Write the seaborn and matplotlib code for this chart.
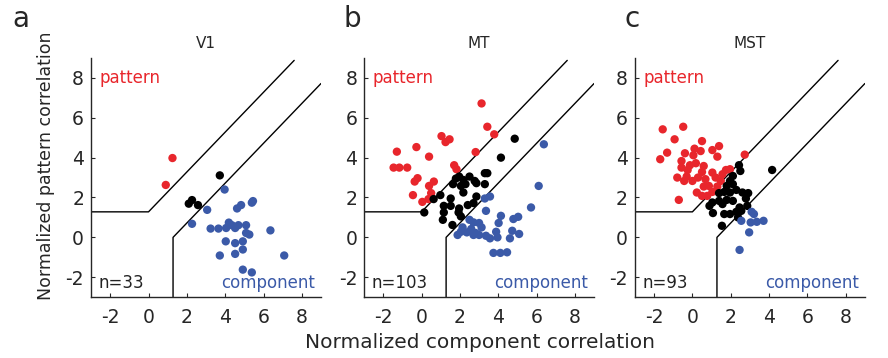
import numpy as np
import pandas as pd
import matplotlib
matplotlib.use("Agg")
import matplotlib.pyplot as plt
import seaborn as sns

# Zc (component) / Zp (pattern) values
v1_pattern_zc = [1.25, 0.90]
v1_pattern_zp = [3.98, 2.63]
v1_unclass_zc = [2.10, 2.27, 2.58, 3.72]
v1_unclass_zp = [1.69, 1.87, 1.62, 3.11]
v1_component_zc = [3.97, 5.45, 5.39, 4.83, 4.62, 3.06, 2.27, 3.24, 3.65, 4.05, 4.19, 4.35, 4.52,
                   4.69, 5.09, 5.09, 5.26, 6.36, 4.03, 4.52, 4.92, 4.92, 3.72, 4.52, 7.08, 4.92,
                   5.39]
v1_component_zp = [2.40, 1.82, 1.74, 1.62, 1.45, 1.38, 0.68, 0.44, 0.44, 0.47, 0.74, 0.61, 0.47,
                   0.61, 0.61, 0.22, 0.14, 0.35, -0.20, -0.29, -0.20, -0.61, -0.91, -0.83, -0.91,
                   -1.62, -1.76]

mt_pattern_zc = [3.13, 3.43, 3.79, 1.04, 1.25, 1.46, -1.29, -0.27, 0.39, 2.82, -1.46, -1.16,
                 -0.75, 1.70, 1.82, -0.21, -0.36, 0.64, 0.39, 0.50, -0.45, 0.04, 0.36]
mt_pattern_zp = [6.72, 5.55, 5.17, 5.08, 4.78, 4.92, 4.30, 4.53, 4.05, 4.28, 3.50, 3.50,
                 3.50, 3.62, 3.42, 2.97, 2.80, 2.80, 2.58, 2.22, 2.12, 1.78, 1.92]
mt_unclass_zc = [4.86, 4.14, 3.43, 3.30, 3.30, 2.50, 1.96, 1.79, 2.18, 2.77, 2.86, 1.64, 2.05,
                 2.29, 2.18, 0.98, 1.52, 0.63, 2.86, 2.71, 2.41, 1.16, 1.52, 1.96, 1.16, 1.93,
                 2.05, 1.11, 1.61, 0.14]
mt_unclass_zp = [4.95, 4.00, 3.22, 3.22, 2.67, 3.05, 3.05, 2.95, 2.88, 2.83, 2.72, 2.67, 2.58,
                 2.67, 2.25, 2.12, 1.95, 1.92, 2.05, 1.72, 1.62, 1.58, 1.58, 1.45, 1.25, 1.25,
                 1.05, 0.88, 0.62, 1.25]
mt_component_zc = [6.38, 6.11, 5.71, 5.04, 4.79, 4.14, 3.57, 3.30, 3.36, 4.02, 2.50, 2.71, 3.00,
                   3.13, 2.14, 2.05, 1.88, 2.59, 2.82, 2.71, 3.00, 3.36, 3.57, 3.89, 3.96, 4.73,
                   5.09, 4.61, 3.75, 4.11, 4.46, 2.36]
mt_component_zp = [4.67, 2.58, 1.50, 1.03, 0.92, 1.08, 2.05, 1.95, 1.33, 0.72, 0.88, 0.75, 0.72,
                   0.50, 0.50, 0.28, 0.12, 0.42, 0.22, 0.12, 0.12, 0.08, -0.05, 0.28, 0.00, 0.33,
                   0.17, -0.05, -0.78, -0.78, -0.75, 0.25]

mst_pattern_zc = [-1.55, -0.48, -0.93, -1.32, -1.68, -0.39, -0.57, 0.11, 0.50, 0.43, 0.05, 1.04,
                  1.39, 1.30, 2.73, -0.57, -0.25, -0.13, 0.18, 0.50, 0.59, -0.79, -0.43, -0.30,
                  0.00, 0.29, 0.68, 1.04, 1.21, 1.57, 1.75, 1.96, 1.48, 0.86, 0.59, 0.23, 0.50,
                  0.77, 1.04, 1.30, -0.71]
mst_pattern_zp = [5.42, 5.55, 4.92, 4.25, 3.92, 4.22, 3.83, 4.45, 4.83, 4.33, 4.12, 4.38,
                  4.58, 4.05, 4.15, 3.50, 3.38, 3.62, 3.72, 3.28, 3.58, 3.00, 2.83, 3.05,
                  2.83, 3.00, 2.92, 3.25, 3.00, 3.17, 3.38, 3.42, 2.83, 2.58, 2.55, 2.25, 2.08,
                  2.08, 2.28, 2.55, 1.88]
mst_unclass_zc = [2.43, 2.50, 4.16, 2.11, 1.96, 1.79, 2.11, 1.66, 1.39, 1.96, 2.29, 2.61, 2.91,
                  1.04, 1.39, 1.79, 2.11, 2.79, 0.89, 1.57, 2.46, 2.86, 1.07, 1.66, 1.96, 2.29,
                  2.55, 2.38, 1.54]
mst_unclass_zp = [3.62, 3.33, 3.38, 3.08, 2.83, 2.58, 2.67, 2.28, 2.22, 2.25, 2.38, 2.25, 2.22,
                  1.75, 1.83, 1.88, 1.83, 1.95, 1.58, 1.67, 1.50, 1.58, 1.22, 1.17, 1.17, 1.28,
                  1.33, 1.00, 0.58]
mst_component_zc = [3.09, 3.21, 2.55, 3.04, 3.36, 3.71, 2.96, 2.46]
mst_component_zp = [1.28, 1.17, 0.83, 0.75, 0.78, 0.83, 0.25, -0.63]

areas = ["V1", "MT", "MST"]
panel_letters = ["a", "b", "c"]
cell_counts = [33, 103, 93]

# classification boundaries (criterion 1.28)
pattern_bound_x = [-3, 0, 7.6]
pattern_bound_y = [1.28, 1.28, 8.88]
component_bound_x = [1.28, 1.28, 9]
component_bound_y = [-3, 0, 7.72]

colors = {"pattern": "#e8262c", "unclassified": "black", "component": "#3b5aa8"}


def make_frame(groups):
    rows = []
    for label, zc, zp in groups:
        rows.append(pd.DataFrame({"zc": zc, "zp": zp, "cls": label}))
    return pd.concat(rows, ignore_index=True)


frames = [
    make_frame([("pattern", v1_pattern_zc, v1_pattern_zp),
                ("unclassified", v1_unclass_zc, v1_unclass_zp),
                ("component", v1_component_zc, v1_component_zp)]),
    make_frame([("pattern", mt_pattern_zc, mt_pattern_zp),
                ("unclassified", mt_unclass_zc, mt_unclass_zp),
                ("component", mt_component_zc, mt_component_zp)]),
    make_frame([("pattern", mst_pattern_zc, mst_pattern_zp),
                ("unclassified", mst_unclass_zc, mst_unclass_zp),
                ("component", mst_component_zc, mst_component_zp)]),
]

sns.set_style("ticks")
plt.rcParams['font.family'] = ['DejaVu Sans']
plt.rcParams['axes.unicode_minus'] = False

fig = plt.figure(figsize=(8.88, 3.58), dpi=100)
lefts = [0.1025, 0.410, 0.715]

for i, df in enumerate(frames):
    ax = fig.add_axes([lefts[i], 0.170, 0.259, 0.668])
    ax.plot(pattern_bound_x, pattern_bound_y, color="black", lw=1.0, zorder=1)
    ax.plot(component_bound_x, component_bound_y, color="black", lw=1.0, zorder=1)
    sns.scatterplot(data=df, x="zc", y="zp", hue="cls", palette=colors, s=36,
                    edgecolor="none", legend=False, ax=ax, zorder=2)
    ax.set_xlim(-3, 9)
    ax.set_ylim(-3, 9)
    ax.set_xticks([-2, 0, 2, 4, 6, 8])
    ax.set_yticks([-2, 0, 2, 4, 6, 8])
    ax.set_xlabel("")
    ax.set_ylabel("")
    ax.tick_params(direction="in", length=3, labelsize=13.5, width=0.8, pad=5)
    ax.tick_params(axis="x", pad=8)
    sns.despine(ax=ax)
    for sp in ax.spines.values():
        sp.set_linewidth(1.0)

    ax.text(-2.55, 8.0, "pattern", color=colors["pattern"], fontsize=12,
            ha="left", va="center")
    ax.text(8.7, -2.3, "component", color=colors["component"], fontsize=12,
            ha="right", va="center")
    ax.text(-2.6, -2.3, f"n={cell_counts[i]}", color="#222222", fontsize=12,
            ha="left", va="center")
    ax.set_title(areas[i], fontsize=11, pad=7)

letter_x = [21, 352, 632]
for lx, letter in zip(letter_x, panel_letters):
    fig.text(lx / 888, 1 - 19 / 358, letter, fontsize=20, ha="center", va="center")

fig.text(46 / 888, 1 - 166 / 358, "Normalized pattern correlation", rotation=90,
         fontsize=12.5, ha="center", va="center")
fig.text(480 / 888, 1 - 343 / 358, "Normalized component correlation",
         fontsize=14.5, ha="center", va="center")

fig.savefig("out.png", dpi=100)
